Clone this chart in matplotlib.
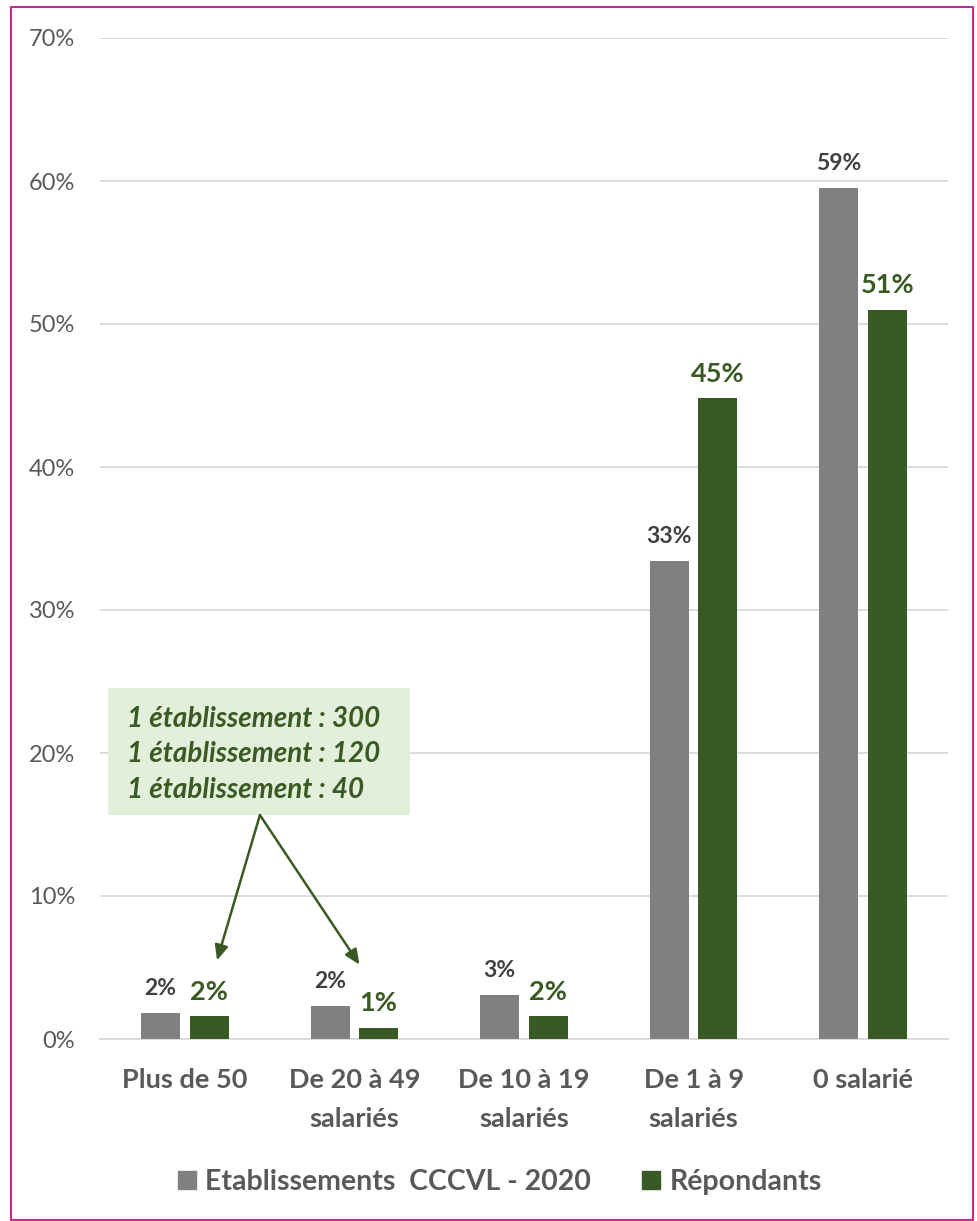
import numpy as np
import matplotlib.pyplot as plt
import matplotlib as mpl
from matplotlib.patches import Rectangle

mpl.rcParams.update({
    "font.family": ["Lato", "DejaVu Sans"],
})

categories = ["Plus de 50", "De 20 à 49\nsalariés", "De 10 à 19\nsalariés",
              "De 1 à 9\nsalariés", "0 salarié"]
etab = [1.8, 2.3, 3.1, 33.4, 59.5]
etab_labels = ["2%", "2%", "3%", "33%", "59%"]
repond = [1.6, 0.8, 1.6, 44.8, 51.0]
repond_labels = ["2%", "1%", "2%", "45%", "51%"]
series_names = ["Etablissements  CCCVL - 2020", "Répondants"]
yticks = [0, 10, 20, 30, 40, 50, 60, 70]
note_lines = ["1 établissement : 300", "1 établissement : 120", "1 établissement : 40"]

GRAY = "#808080"
GREEN = "#3A5A23"
TXT = "#595959"


def main():
    W, H = 978, 1221
    fig = plt.figure(figsize=(W / 100, H / 100), dpi=100)
    ax = fig.add_axes([100 / W, 1 - 1039 / H, 848 / W, 1001 / H])

    x = np.arange(len(categories))
    w = 0.23
    off = 0.143
    b1 = ax.bar(x - off, etab, w, color=GRAY, zorder=3)
    b2 = ax.bar(x + off, repond, w, color=GREEN, zorder=3)

    for rect, lab in zip(b1, etab_labels):
        ax.annotate(lab, (rect.get_x() + rect.get_width() / 2, rect.get_height()),
                    xytext=(0, 10), textcoords="offset points", ha="center",
                    va="bottom", fontsize=16.5, fontweight="bold", color="#404040")
    for rect, lab in zip(b2, repond_labels):
        ax.annotate(lab, (rect.get_x() + rect.get_width() / 2, rect.get_height()),
                    xytext=(0, 9), textcoords="offset points", ha="center",
                    va="bottom", fontsize=19.5, fontweight="bold", color=GREEN)

    ax.set_xlim(-0.5, len(categories) - 0.5)
    ax.set_ylim(0, 70)
    ax.set_yticks(yticks)
    ax.set_yticklabels([f"{t}%" for t in yticks], fontsize=17, color=TXT)
    ax.set_xticks(x)
    ax.set_xticklabels(categories, fontsize=19.5, fontweight="bold", color=TXT,
                       linespacing=1.75)
    ax.tick_params(axis="both", length=0)
    ax.tick_params(axis="y", pad=18)
    ax.tick_params(axis="x", pad=21)
    ax.grid(axis="y", color="#D9D9D9", linewidth=1.3, zorder=0)
    for s in ["top", "right", "left"]:
        ax.spines[s].set_visible(False)
    ax.spines["bottom"].set_color("#D9D9D9")
    ax.spines["bottom"].set_linewidth(1.3)

    # note box with arrows
    ax.add_patch(Rectangle((-0.453, 15.66), 1.781, 8.89, fc="#E2EFDA", ec="none", zorder=5))
    ax.text(-0.341, 19.9, "\n".join(note_lines), fontsize=20, fontstyle="italic",
            fontweight="bold", color=GREEN, ha="left", va="center",
            linespacing=1.45, zorder=6)
    src = (0.443, 15.66)
    for tgt in [(0.19, 5.5), (1.03, 5.2)]:
        ax.annotate("", xy=tgt, xytext=src, zorder=6,
                    arrowprops=dict(arrowstyle="-|>,head_length=0.9,head_width=0.4",
                                    color=GREEN, lw=1.8, shrinkA=0, shrinkB=0))

    # legend
    handles = [Rectangle((0, 0), 1, 1, color=GRAY), Rectangle((0, 0), 1, 1, color=GREEN)]
    leg = fig.legend(handles, series_names, loc="center",
                     bbox_to_anchor=(500 / W, 1 - 1182 / H),
                     ncol=2, frameon=False, handlelength=0.63, handleheight=0.6,
                     handletextpad=0.32, columnspacing=1.8,
                     prop={"weight": "bold", "size": 20.5})
    for t in leg.get_texts():
        t.set_color(TXT)

    # pink frame
    fig.patches.append(Rectangle((11 / W, 1 / H), 962 / W, 1213 / H, transform=fig.transFigure,
                                 fill=False, ec="#C8288C", lw=1.5))

    fig.savefig("out.png", dpi=100)
    plt.close(fig)


if __name__ == "__main__":
    main()
